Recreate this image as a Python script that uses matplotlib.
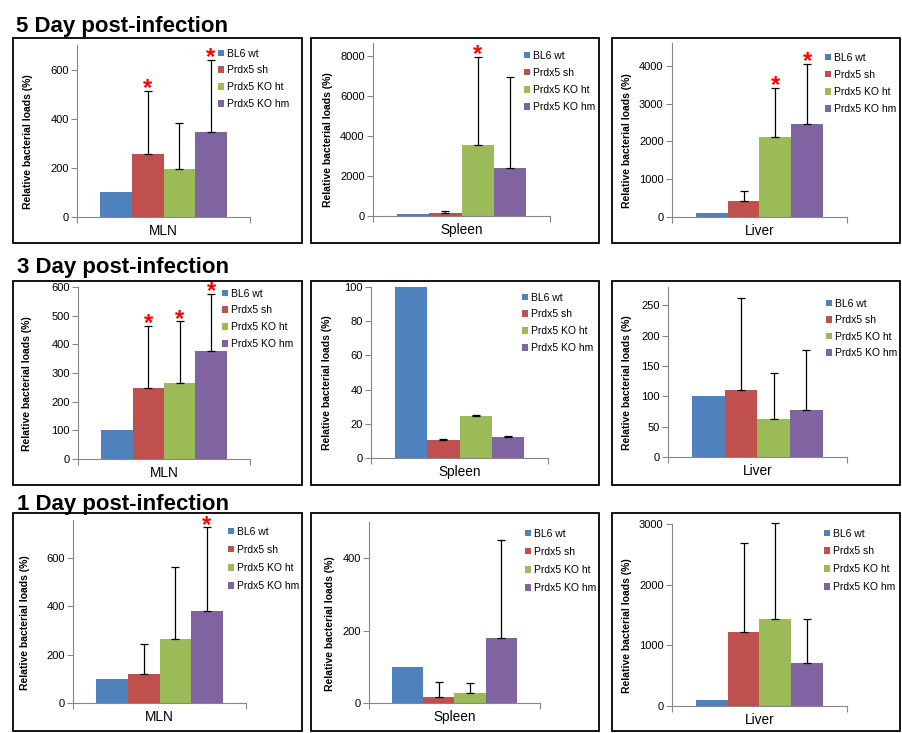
import numpy as np
import matplotlib
matplotlib.use('Agg')
import matplotlib.pyplot as plt
from matplotlib.patches import Patch, Rectangle

plt.rcParams['font.family'] = ['Liberation Sans', 'DejaVu Sans']

groups = ['BL6 wt', 'Prdx5 sh', 'Prdx5 KO ht', 'Prdx5 KO hm']
colors = ['#4F81BD', '#C0504D', '#9BBB59', '#8064A2']
day_titles = ['5 Day post-infection', '3 Day post-infection', '1 Day post-infection']
tissues = ['MLN', 'Spleen', 'Liver']

# relative bacterial loads (%), upper error bars, significance marks
day5_mln = [100, 255, 196, 347]
day5_mln_err = [0, 258, 185, 292]
day5_mln_sig = [0, 1, 0, 1]
day5_spleen = [100, 130, 3550, 2410]
day5_spleen_err = [0, 120, 4420, 4550]
day5_spleen_sig = [0, 0, 1, 0]
day5_liver = [100, 425, 2110, 2455]
day5_liver_err = [0, 265, 1300, 1600]
day5_liver_sig = [0, 0, 1, 1]

day3_mln = [100, 246, 264, 376]
day3_mln_err = [0, 218, 217, 200]
day3_mln_sig = [0, 1, 1, 1]
day3_spleen = [100, 10.5, 24.5, 12.3]
day3_spleen_err = [0, 0.4, 0.4, 0.4]
day3_spleen_sig = [0, 0, 0, 0]
day3_liver = [100, 111, 63, 78]
day3_liver_err = [0, 151, 75, 98]
day3_liver_sig = [0, 0, 0, 0]

day1_mln = [100, 120, 263, 380]
day1_mln_err = [0, 123, 298, 347]
day1_mln_sig = [0, 0, 0, 1]
day1_spleen = [100, 16, 29, 180]
day1_spleen_err = [0, 42, 25, 271]
day1_spleen_sig = [0, 0, 0, 0]
day1_liver = [100, 1213, 1433, 703]
day1_liver_err = [0, 1467, 1577, 725]
day1_liver_sig = [0, 0, 0, 0]

panels = [
    [(day5_mln, day5_mln_err, day5_mln_sig),
     (day5_spleen, day5_spleen_err, day5_spleen_sig),
     (day5_liver, day5_liver_err, day5_liver_sig)],
    [(day3_mln, day3_mln_err, day3_mln_sig),
     (day3_spleen, day3_spleen_err, day3_spleen_sig),
     (day3_liver, day3_liver_err, day3_liver_sig)],
    [(day1_mln, day1_mln_err, day1_mln_sig),
     (day1_spleen, day1_spleen_err, day1_spleen_sig),
     (day1_liver, day1_liver_err, day1_liver_sig)],
]

# axis ranges
ylims = [[700, 8650, 4600], [600, 100, 280], [757, 500, 3000]]
ysteps = [[200, 2000, 1000], [100, 20, 50], [200, 200, 1000]]
ytick_max = [[600, 8000, 4000], [600, 100, 250], [600, 400, 3000]]

# layout in pixels
W, H = 903, 733
frames_x = [(13, 302), (311, 599), (612, 900)]
frames_y = [(38, 243), (281, 485), (513, 731)]
title_pos = [(16, 32), (17, 273), (17, 510)]
# axes: left, zero-line y, top y, right
axes_px = [
    [(77, 217, 45, 250), (373, 216, 43, 550), (672, 217, 43, 847)],
    [(78, 459, 287, 250), (371, 458, 287, 548), (668, 457, 287, 847)],
    [(73, 703, 520, 246), (369, 703, 522, 540), (672, 706, 524, 847)],
]
ylabel_x = [[33, 333, 632], [32, 332, 632], [30, 335, 632]]
# legend: marker x, first row y, row step
legend_px = [
    [(218, 53, 16), (524, 55, 16.3), (825, 57, 16.3)],
    [(222, 293, 16), (522, 297, 16), (826, 303, 15.7)],
    [(228, 531, 17.3), (525, 533, 17.3), (824, 533, 17)],
]

fig = plt.figure(figsize=(W / 100, H / 100), dpi=100)
fig.patch.set_facecolor('white')

axis_gray = '#868686'
x = np.arange(len(groups))
xlo, xhi = -1.24, 3 + 1.24

for r in range(3):
    tx, ty = title_pos[r]
    fig.text(tx / W, 1 - ty / H, day_titles[r], fontsize=16, fontweight='bold',
             ha='left', va='baseline')
    for c in range(3):
        x0, x1 = frames_x[c]
        y0, y1 = frames_y[r]
        fig.add_artist(Rectangle((x0 / W, 1 - y1 / H), (x1 - x0) / W, (y1 - y0) / H,
                                 fill=False, ec='black', lw=1.3,
                                 transform=fig.transFigure))

        vals, errs, sig = panels[r][c]
        left, zero, top, right = axes_px[r][c]
        ax = fig.add_axes([left / W, 1 - zero / H, (right - left) / W, (zero - top) / H])
        ax.bar(x, vals, width=1.0, color=colors, edgecolor='none', zorder=2)

        idx = [i for i in range(len(groups)) if errs[i] > 0]
        ax.errorbar(x[idx], np.array(vals)[idx],
                    yerr=[np.zeros(len(idx)), np.array(errs)[idx]],
                    fmt='none', ecolor='black', elinewidth=0.9, capsize=3.2,
                    capthick=0.9, zorder=3, clip_on=False)
        for i in range(len(groups)):
            if sig[i]:
                ax.annotate('*', (x[i], vals[i] + errs[i]), xytext=(0, 1.5),
                            textcoords='offset points', ha='center', va='center',
                            color='red', fontsize=17, fontweight='bold',
                            annotation_clip=False, zorder=4)

        ax.set_xlim(xlo, xhi)
        ax.set_ylim(0, ylims[r][c])
        ax.set_yticks(np.arange(0, ytick_max[r][c] + 1, ysteps[r][c]))
        ax.set_xticks([1.5])
        ax.set_xticklabels([tissues[c]], fontsize=9.8)
        ax.set_xticks([xlo, xhi], minor=True)
        ax.tick_params(axis='x', which='major', length=0, pad=5)
        ax.tick_params(axis='x', which='minor', length=4, color=axis_gray, width=0.8)
        ax.tick_params(axis='y', length=4, color=axis_gray, width=0.8, labelsize=8, pad=2)
        for s in ['top', 'right']:
            ax.spines[s].set_visible(False)
        for s in ['left', 'bottom']:
            ax.spines[s].set_color(axis_gray)
            ax.spines[s].set_linewidth(0.8)
        ax.patch.set_alpha(0)

        ax.set_ylabel('Relative bacterial loads (%)', fontsize=7.5, fontweight='bold')
        ax.yaxis.set_label_coords((ylabel_x[r][c] - left) / (right - left), 0.44)

        mx, my, step = legend_px[r][c]
        fs = 7.5
        fpx = fs * 100 / 72
        handles = [Patch(facecolor=col, edgecolor='none') for col in colors]
        ax.legend(handles, groups, loc='upper left',
                  bbox_to_anchor=(mx / W, 1 - (my - 0.42 * fpx) / H),
                  bbox_transform=fig.transFigure, frameon=False, fontsize=fs,
                  handlelength=0.6, handleheight=0.6, handletextpad=0.3,
                  borderpad=0, borderaxespad=0,
                  labelspacing=(step - 0.88 * fpx) / fpx)

fig.savefig('out.png', dpi=100)
